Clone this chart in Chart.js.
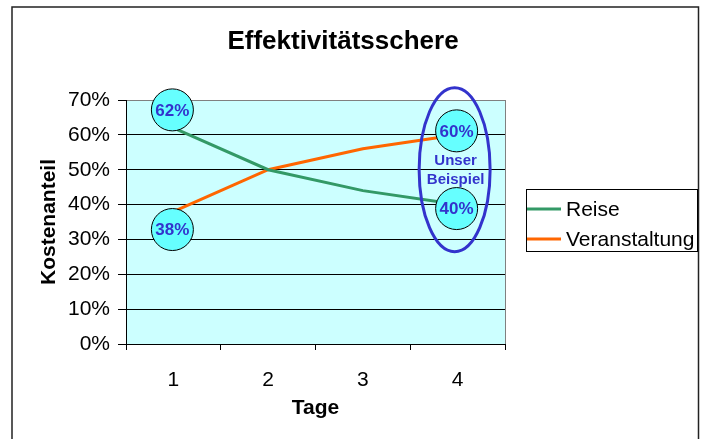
<!DOCTYPE html>
<html lang="de">
<head>
<meta charset="UTF-8">
<title>Effektivitätsschere</title>
<script src="https://cdn.jsdelivr.net/npm/chart.js"></script>
<style>
    body { margin: 0; background: #ffffff; }
    #wrap { width: 702px; height: 439px; }
</style>
</head>
<body>
<div id="wrap"><canvas id="chart" width="702" height="439"></canvas></div>
<script>
// data
const tage = ['1', '2', '3', '4'];
const reise = [62, 50, 44, 40];
const veranstaltung = [38, 50, 56, 60];
const seriesNames = ['Reise', 'Veranstaltung'];
const titleText = 'Effektivitätsschere';
const yTitle = 'Kostenanteil';
const xTitle = 'Tage';
// which points get a circled label: [datasetIndex, pointIndex]
const markedPoints = [[0, 0], [1, 0], [1, 3], [0, 3]];
const noteLines = ['Unser', 'Beispiel'];

const FONT = 'Arial, "Liberation Sans", sans-serif';
const labelBlue = '#3333cc';

// extras: frame, plot background, title, circles, ellipse, legend
const extras = {
    id: 'extras',
    beforeDraw(chart) {
        const ctx = chart.ctx;
        const a = chart.chartArea;
        ctx.save();
        ctx.fillStyle = '#ccffff';
        ctx.fillRect(a.left, a.top, a.right - a.left, a.bottom - a.top);
        ctx.restore();
    },
    afterDraw(chart) {
        const ctx = chart.ctx;
        const a = chart.chartArea;
        const xs = chart.scales.x, ys = chart.scales.y;
        ctx.save();

        // outer frame
        ctx.strokeStyle = '#222';
        ctx.lineWidth = 1.5;
        ctx.strokeRect(12, 7, 686.5, 450);

        // right border of plot area
        ctx.strokeStyle = '#808080';
        ctx.lineWidth = 1;
        ctx.beginPath();
        ctx.moveTo(a.right + 0.5, a.top);
        ctx.lineTo(a.right + 0.5, a.bottom);
        ctx.stroke();

        // title
        ctx.fillStyle = '#000';
        ctx.font = 'bold 26px ' + FONT;
        ctx.textAlign = 'center';
        ctx.textBaseline = 'middle';
        ctx.fillText(titleText, 343, 42);

        // ellipse round the last category
        const ex = xs.getPixelForValue(3) - 3;
        const ey = (ys.getPixelForValue(reise[3]) + ys.getPixelForValue(veranstaltung[3])) / 2;
        ctx.strokeStyle = labelBlue;
        ctx.lineWidth = 3;
        ctx.beginPath();
        ctx.ellipse(ex, ey, 35.5, 82, 0, 0, Math.PI * 2);
        ctx.stroke();

        // circled value labels
        markedPoints.forEach(([d, i]) => {
            const ds = chart.data.datasets[d];
            const v = ds.data[i];
            const other = chart.data.datasets[1 - d].data[i];
            const px = xs.getPixelForValue(i) - 1;
            let py = ys.getPixelForValue(v);
            const shift = i === 0 ? 18 : 4;
            py += v > other ? -shift : shift;
            ctx.fillStyle = '#66ffff';
            ctx.strokeStyle = '#000';
            ctx.lineWidth = 1;
            ctx.beginPath();
            ctx.arc(px, py, 21, 0, Math.PI * 2);
            ctx.fill();
            ctx.stroke();
            ctx.fillStyle = labelBlue;
            ctx.font = 'bold 17px ' + FONT;
            ctx.textAlign = 'center';
            ctx.textBaseline = 'middle';
            ctx.fillText(v + '%', px, py + 1);
        });

        ctx.fillStyle = labelBlue;
        ctx.font = 'bold 15px ' + FONT;
        ctx.fillText(noteLines[0], ex + 1, ey - 9);
        ctx.fillText(noteLines[1], ex + 1, ey + 10);

        // legend
        ctx.strokeStyle = '#000';
        ctx.lineWidth = 1;
        ctx.strokeRect(526.5, 189.5, 171, 62);
        chart.data.datasets.forEach((ds, k) => {
            const ly = 209 + k * 30;
            ctx.strokeStyle = ds.borderColor;
            ctx.lineWidth = 3;
            ctx.beginPath();
            ctx.moveTo(527, ly);
            ctx.lineTo(561, ly);
            ctx.stroke();
            ctx.fillStyle = '#000';
            ctx.font = '21px ' + FONT;
            ctx.textAlign = 'left';
            ctx.textBaseline = 'middle';
            ctx.fillText(ds.label, 566, ly + 1);
        });
        ctx.restore();
    }
};

new Chart(document.getElementById('chart'), {
    type: 'line',
    data: {
        labels: tage,
        datasets: [{
            label: seriesNames[0],
            data: reise,
            borderColor: '#339966',
            borderWidth: 3,
            pointRadius: 0,
            fill: false
        }, {
            label: seriesNames[1],
            data: veranstaltung,
            borderColor: '#ff6600',
            borderWidth: 3,
            pointRadius: 0,
            fill: false
        }]
    },
    options: {
        responsive: false,
        animation: false,
        layout: { padding: { left: 0, right: 197, top: 100, bottom: 0 } },
        plugins: {
            legend: { display: false },
            tooltip: { enabled: false }
        },
        scales: {
            x: {
                offset: true,
                afterFit(s) { s.height = 95; },
                grid: {
                    offset: true,
                    drawOnChartArea: false,
                    tickLength: 6,
                    color: '#000'
                },
                border: { color: '#000', width: 1 },
                ticks: { color: '#000', padding: 18, font: { family: FONT, size: 21 } },
                title: {
                    display: true,
                    text: xTitle,
                    color: '#000',
                    padding: { top: 0, bottom: 18 },
                    font: { family: FONT, size: 21, weight: 'bold' }
                }
            },
            y: {
                min: 0,
                max: 70,
                afterFit(s) { s.width = 126; },
                grid: {
                    color: c => (c.tick && c.tick.value === 70) ? '#808080' : '#000',
                    tickColor: '#000',
                    tickLength: 8
                },
                border: { color: '#000', width: 1 },
                ticks: {
                    stepSize: 10,
                    color: '#000',
                    padding: 8,
                    font: { family: FONT, size: 21 },
                    callback: v => v + '%'
                },
                title: {
                    display: true,
                    text: yTitle,
                    color: '#000',
                    padding: { top: 37, bottom: 0 },
                    font: { family: FONT, size: 21, weight: 'bold' }
                }
            }
        }
    },
    plugins: [extras]
});
</script>
</body>
</html>
